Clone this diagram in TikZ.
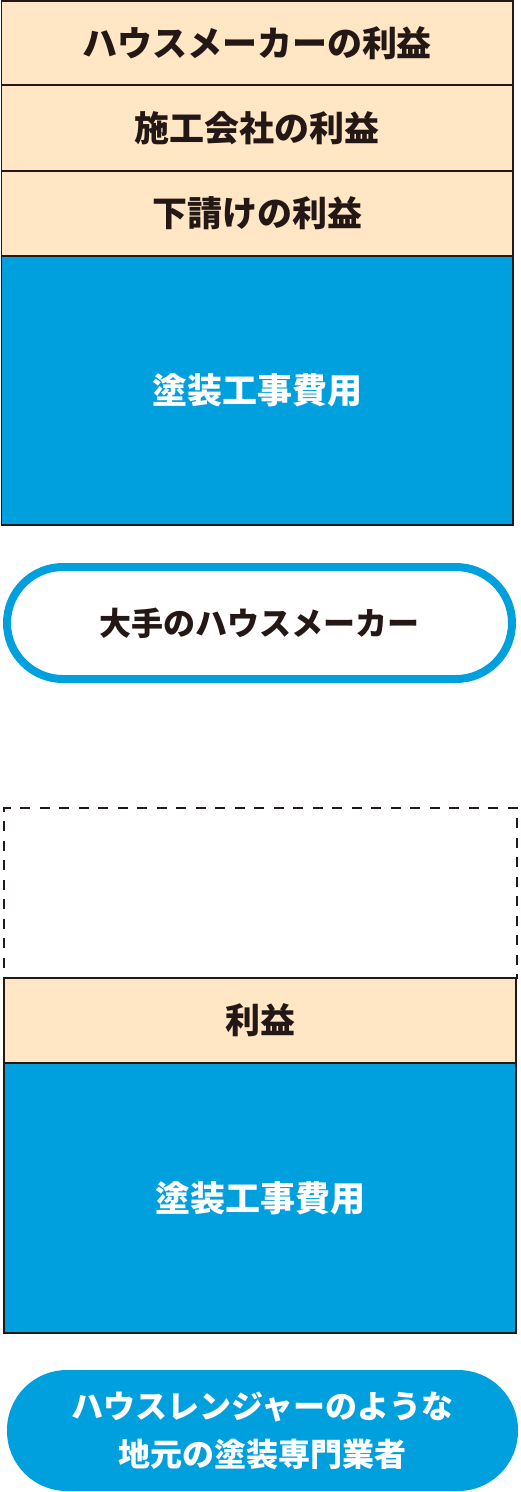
\documentclass[tikz,border=0pt]{standalone}
\usepackage{fontspec}
\setmainfont{Noto Sans CJK JP}
\definecolor{cream}{HTML}{FFE6C4}
\definecolor{skyblue}{HTML}{009FDE}
\definecolor{ink}{HTML}{231815}
\begin{document}
\begin{tikzpicture}[x=1pt,y=-1pt,
  band/.style={draw=ink,line width=1.5pt,fill=cream,inner sep=0pt,text=ink,font=\fontsize{35}{40}\selectfont\bfseries},
  costbox/.style={draw=ink,line width=1.5pt,fill=skyblue,inner sep=0pt,text=white,font=\fontsize{35}{40}\selectfont\bfseries},
  pillout/.style={draw=skyblue,line width=8pt,fill=white,rounded corners=56pt,inner sep=0pt,text=ink,font=\fontsize{32}{38}\selectfont\bfseries},
  pillfill/.style={fill=skyblue,rounded corners=60pt,inner sep=0pt,text=white,align=center,font=\fontsize{32}{48}\selectfont\bfseries},
  ghost/.style={draw=ink,line width=1.3pt,dash pattern=on 10pt off 9.5pt,inner sep=0pt}]
\useasboundingbox (0,0) rectangle (520,1492);
% top stack
\node[band,minimum width=511.5pt,minimum height=84pt] (p1) at (257,43) {ハウスメーカーの利益};
\node[band,minimum width=511.5pt,minimum height=86pt] (p2) at (257,128) {施工会社の利益};
\node[band,minimum width=511.5pt,minimum height=85pt] (p3) at (257,213.5) {下請けの利益};
\node[costbox,minimum width=511.5pt,minimum height=269pt] (c1) at (257,390.5) {塗装工事費用};
\node[pillout,minimum width=505pt,minimum height=112pt] (m1) at (259.5,623) {大手のハウスメーカー};
% lower stack
\node[ghost,minimum width=513pt,minimum height=170pt] (g) at (260.5,893) {};
\node[band,minimum width=512pt,minimum height=85pt] (p4) at (260,1020.5) {利益};
\node[costbox,minimum width=512pt,minimum height=270pt] (c2) at (260,1198) {塗装工事費用};
\node[pillfill,minimum width=511pt,minimum height=121pt] (m2) at (262.5,1430.5) {ハウスレンジャーのような\\地元の塗装専門業者};
\end{tikzpicture}
\end{document}
